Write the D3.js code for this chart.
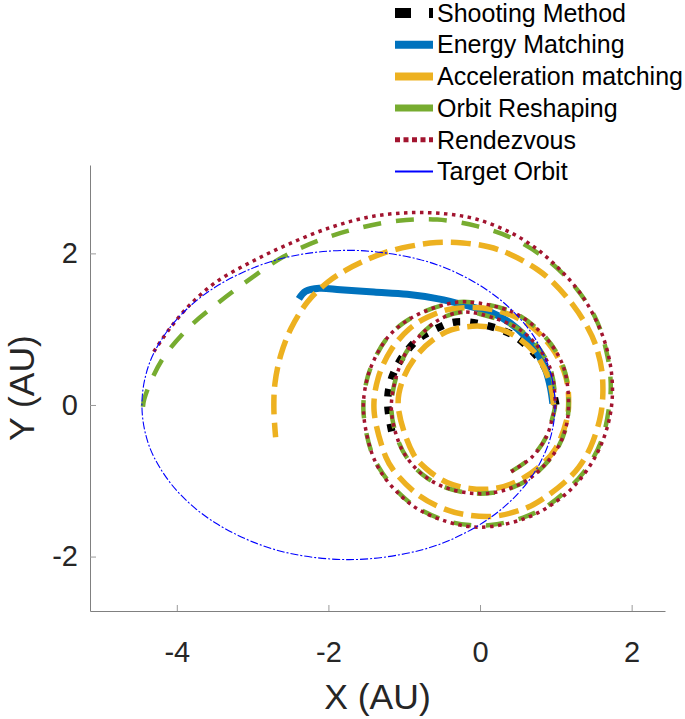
<!DOCTYPE html>
<html><head><meta charset="utf-8">
<script src="https://cdn.jsdelivr.net/npm/d3@7"></script>
<style>
html,body{margin:0;padding:0;background:#fff;}
svg{display:block;font-family:"Liberation Sans",Arial,Helvetica,sans-serif;}
</style></head>
<body>
<svg id="chart" width="685" height="719"></svg>
<script>
// ---------- DATA ----------
const seriesNames = ["Shooting Method","Energy Matching","Acceleration matching","Orbit Reshaping","Rendezvous","Target Orbit"];
const xTicks = [-4,-2,0,2];
const yTicks = [-2,0,2];

// polar readings: [angle in degrees travelled counter-clockwise, radius AU]
const shooting = [[0,1.00],[30,0.99],[60,1.01],[75,1.03],[97,1.10],[109,1.15],[120,1.16],[132,1.19],[144,1.20],[154,1.21],[166,1.22],[177,1.22],[188,1.21],[199,1.22]];

// cartesian readings [x, y] AU
const energy = [[-2.39,1.40],[-2.30,1.50],[-2.12,1.54],[-1.84,1.52],[-1.40,1.49],[-0.96,1.46],[-0.55,1.40],[-0.17,1.31],[0.15,1.22],[0.40,1.08],[0.60,0.90],[0.76,0.68],[0.87,0.45],[0.93,0.22],[0.96,0.02]];

const acceleration = [[0,0.97],[20,0.97],[45,1.00],[70,1.03],[90,1.04],[111,1.06],[126,1.06],[142,1.06],[160,1.07],[180,1.08],[216,1.09],[230,1.10],[247,1.11],[263,1.11],[281,1.12],[298,1.12],[315,1.13],[330,1.15],[350,1.16],[362,1.17],[378,1.19],[398,1.21],[420,1.24],[442,1.27],[466,1.32],[481,1.35],[493,1.37],[508,1.38],[525,1.39],[543,1.40],[569,1.42],[577,1.43],[595,1.44],[610,1.45],[623,1.46],[638,1.48],[655,1.49],[664,1.49],[677,1.51],[688,1.54],[699,1.56],[713,1.59],[723,1.62],[736,1.67],[748,1.72],[756,1.75],[767,1.80],[779,1.88],[787,1.94],[799,2.03],[807,2.09],[816,2.15],[825,2.22],[834,2.29],[842,2.37],[849,2.44],[855,2.51],[861,2.58],[869,2.65],[878,2.69],[886,2.71],[894,2.72],[901,2.72],[909,2.73]];

const reshaping = [[-65,0.97],[-45,0.97],[-25,0.97],[-10,0.97],[0,0.99],[30,1.05],[60,1.12],[90,1.20],[102,1.25],[115,1.25],[131,1.21],[148,1.19],[180,1.17],[205,1.18],[220,1.19],[234,1.19],[248,1.18],[264,1.17],[278,1.17],[292,1.17],[306,1.17],[330,1.17],[350,1.17],[376,1.19],[391,1.22],[410,1.25],[431,1.30],[457,1.37],[468,1.40],[482,1.44],[493,1.48],[504,1.51],[518,1.52],[529,1.53],[543,1.54],[563,1.56],[575,1.57],[589,1.58],[600,1.59],[614,1.59],[625,1.59],[635,1.59],[651,1.59],[665,1.60],[687,1.63],[704,1.67],[721,1.71],[730,1.75],[741,1.80],[756,1.90],[770,1.99],[784,2.10],[798,2.23],[811,2.36],[823,2.51],[834,2.66],[845,2.84],[854,3.03],[863,3.25],[872,3.48],[879,3.72],[885,3.97],[892,4.24],[899,4.43],[901,4.45]];

const rendezvous = [[-65,0.97],[-45,0.97],[-25,0.97],[-10,0.97],[0,0.99],[30,1.05],[60,1.12],[90,1.20],[102,1.25],[115,1.25],[131,1.21],[148,1.19],[180,1.17],[205,1.18],[220,1.19],[234,1.19],[248,1.18],[264,1.17],[278,1.17],[292,1.17],[306,1.17],[330,1.17],[350,1.17],[376,1.19],[391,1.22],[410,1.25],[431,1.30],[457,1.37],[468,1.40],[482,1.44],[493,1.48],[504,1.51],[518,1.52],[529,1.53],[543,1.54],[563,1.56],[575,1.58],[589,1.59],[600,1.60],[614,1.60],[625,1.61],[635,1.61],[651,1.61],[665,1.62],[680,1.64],[697,1.67],[712,1.71],[724,1.75],[735,1.79],[746,1.84],[757,1.90],[768,1.98],[779,2.07],[790,2.19],[800,2.31],[811,2.45],[820,2.56],[830,2.70],[840,2.87],[850,3.06],[860,3.30],[868,3.56],[875,3.84],[881,4.05],[886,4.21],[891,4.37]];

const target = [[0.99,0],[0.95,0.35],[0.85,0.645],[0.65,0.99],[0.30,1.36],[-0.20,1.69],[-0.80,1.92],[-1.735,2.04],[-2.70,1.91],[-3.50,1.55],[-4.00,1.13],[-4.30,0.69],[-4.42,0.35],[-4.46,0],[-4.42,-0.35],[-4.30,-0.69],[-4.00,-1.13],[-3.50,-1.55],[-2.70,-1.91],[-1.735,-2.04],[-0.80,-1.92],[-0.20,-1.69],[0.30,-1.36],[0.65,-0.99],[0.85,-0.645],[0.95,-0.35]];

// ---------- DRAWING ----------
const svg = d3.select("#chart");
const x = d3.scaleLinear().domain([-5.145, 2.44]).range([90, 665]);
const y = d3.scaleLinear().domain([-2.718, 3.166]).range([611, 165]);

const polarToXY = d => { const p = d3.pointRadial((90 - d[0]) * Math.PI / 180, d[1]); return [p[0], -p[1]]; };
const line = d3.line().x(d => x(d[0])).y(d => y(d[1])).curve(d3.curveCatmullRom.alpha(0.5));
const closedLine = d3.line().x(d => x(d[0])).y(d => y(d[1])).curve(d3.curveCatmullRomClosed.alpha(0.5));

const styles = [
  {color:"#000000", width:7.5, dash:"7.5,10"},
  {color:"#0072BD", width:7,   dash:null},
  {color:"#EDB120", width:5.5, dash:"20,8"},
  {color:"#77AC30", width:4.5, dash:"18,15"},
  {color:"#A2142F", width:3.5, dash:"3.5,4.5"},
  {color:"#0000FF", width:1.1, dash:"8,2,2,2"}
];

// axes
const gx = svg.append("g").attr("transform", `translate(0,${y.range()[0]})`)
  .call(d3.axisBottom(x).tickValues(xTicks).tickSizeInner(-6).tickSizeOuter(0).tickPadding(30).tickFormat(d3.format("d")));
const gy = svg.append("g").attr("transform", `translate(${x.range()[0]},0)`)
  .call(d3.axisLeft(y).tickValues(yTicks).tickSizeInner(-6).tickSizeOuter(0).tickPadding(12).tickFormat(d3.format("d")));
[gx, gy].forEach(g => {
  g.select(".domain").attr("stroke", "#808080").attr("stroke-width", 1);
  g.selectAll(".tick line").attr("stroke", "#9a9a9a").attr("stroke-width", 1);
  g.selectAll(".tick text").attr("fill", "#262626").attr("font-size", 29).attr("font-family", '"Liberation Sans",Arial,sans-serif');
});
gx.selectAll(".tick text").text(d => d < 0 ? "-" + Math.abs(d) : d);
gy.selectAll(".tick text").text(d => d < 0 ? "-" + Math.abs(d) : d);

svg.append("text").attr("x", (x.range()[0] + x.range()[1]) / 2).attr("y", 709)
  .attr("text-anchor", "middle").attr("font-size", 35.5).attr("fill", "#262626").text("X (AU)");
svg.append("text").attr("transform", `translate(34,${(y.range()[0] + y.range()[1]) / 2}) rotate(-90)`)
  .attr("text-anchor", "middle").attr("font-size", 35.5).attr("fill", "#262626").text("Y (AU)");

// plot lines
const plotG = svg.append("g");
const paths = [
  line(shooting.map(polarToXY)),
  line(energy),
  line(acceleration.map(polarToXY)),
  line(reshaping.map(polarToXY)),
  line(rendezvous.map(polarToXY)),
  closedLine(target)
];
paths.forEach((p, i) => {
  const s = styles[i];
  plotG.append("path").attr("d", p).attr("fill", "none")
    .attr("stroke", s.color).attr("stroke-width", s.width)
    .attr("stroke-dasharray", s.dash)
    .attr("stroke-linejoin", "round");
});

// legend
const legendStyles = [
  {width:10, dash:"16,18"},
  {width:8,  dash:null},
  {width:8,  dash:null},
  {width:7,  dash:null},
  {width:5,  dash:"5,3.5"},
  {width:2,  dash:null}
];
const lg = svg.append("g");
seriesNames.forEach((name, i) => {
  const cy = 13 + i * 31.7;
  lg.append("line").attr("x1", 395).attr("x2", 433).attr("y1", cy).attr("y2", cy)
    .attr("stroke", styles[i].color).attr("stroke-width", legendStyles[i].width)
    .attr("stroke-dasharray", legendStyles[i].dash);
  lg.append("text").attr("x", 437).attr("y", cy).attr("dy", "0.35em")
    .attr("font-size", 25).attr("fill", "#000").text(name);
});
</script>
</body></html>
